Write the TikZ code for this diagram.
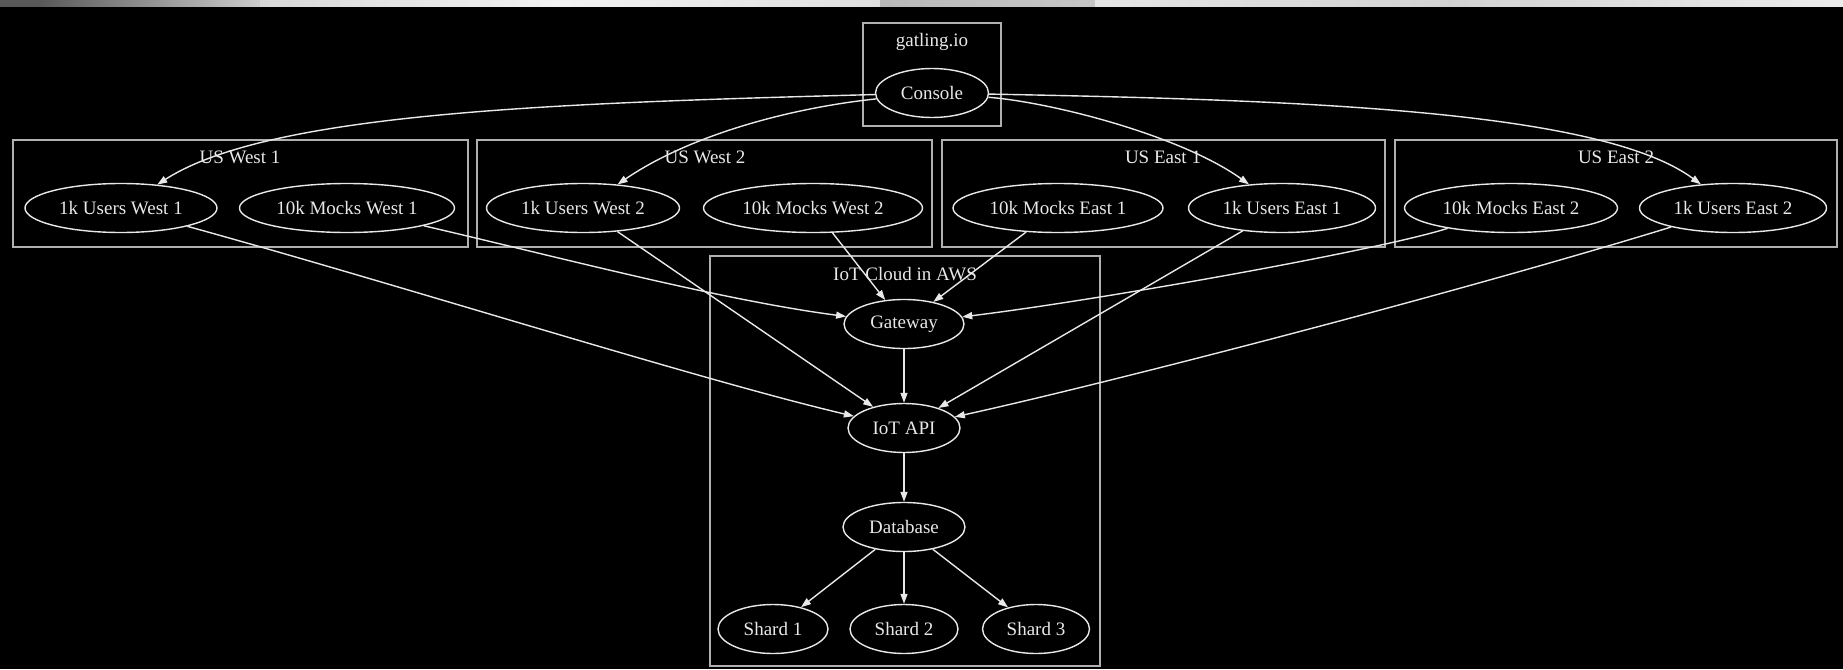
\documentclass[tikz,border=0pt]{standalone}
\usepackage{fontspec}
\setmainfont{Liberation Serif}
\usetikzlibrary{shapes.geometric,arrows.meta}
\definecolor{fg}{HTML}{E8E8E8}
\definecolor{clr}{HTML}{B0B0B0}
\begin{document}
\begin{tikzpicture}[x=1pt,y=-1pt,
  nd/.style={ellipse, draw=fg, line width=1.4pt, text=fg, inner sep=0pt,
    minimum height=49pt, font=\fontsize{19}{22}\selectfont},
  clbox/.style={draw=clr, line width=2.6pt},
  lbl/.style={text=fg, inner sep=0pt, font=\fontsize{19}{22}\selectfont},
  arr/.style={draw=fg, line width=1.4pt, -{Triangle[length=10pt,width=7pt]}},
]
\useasboundingbox (0,0) rectangle (1843,669);
\fill[black] (0,0) rectangle (1843,669);
% photographic strip at the top
\fill[gray!70!black] (0,0) rectangle (40,7);
\shade[left color=gray!70!black, right color=gray!40] (40,0) rectangle (260,7);
\shade[left color=gray!30, right color=gray!10] (260,0) rectangle (560,7);
\shade[left color=gray!10, right color=gray!25] (560,0) rectangle (880,7);
\shade[left color=gray!55, right color=gray!45] (880,0) rectangle (1095,7);
\shade[left color=gray!20, right color=gray!35] (1095,0) rectangle (1450,7);
\shade[left color=gray!35, right color=gray!15] (1450,0) rectangle (1843,7);

% clusters
\draw[clbox] (863,23) rectangle (1001,126);
\node[lbl] (lgat) at (932,42) {gatling.io};
\draw[clbox] (13,140) rectangle (468,247);
\node[lbl] (lw1) at (240,157) {US West 1};
\draw[clbox] (477,140) rectangle (932,247);
\node[lbl] (lw2) at (705,157) {US West 2};
\draw[clbox] (942,140) rectangle (1385,247);
\node[lbl] (le1) at (1163,157) {US East 1};
\draw[clbox] (1395,140) rectangle (1837,247);
\node[lbl] (le2) at (1616,157) {US East 2};
\draw[clbox] (710,256) rectangle (1100,666);
\node[lbl] (laws) at (905,274) {IoT Cloud in AWS};

% nodes
\node[nd, minimum width=113pt] (console) at (932,93) {Console};
\node[nd, minimum width=192pt] (u1) at (121,208) {1k Users West 1};
\node[nd, minimum width=215pt] (m1) at (347,208) {10k Mocks West 1};
\node[nd, minimum width=193pt] (u2) at (583,208) {1k Users West 2};
\node[nd, minimum width=219pt] (m2) at (813,208) {10k Mocks West 2};
\node[nd, minimum width=210pt] (m3) at (1058,208) {10k Mocks East 1};
\node[nd, minimum width=187pt] (u3) at (1282,208) {1k Users East 1};
\node[nd, minimum width=213pt] (m4) at (1511,208) {10k Mocks East 2};
\node[nd, minimum width=187pt] (u4) at (1733,208) {1k Users East 2};
\node[nd, minimum width=120pt] (gw) at (904,324) {Gateway};
\node[nd, minimum width=112pt] (api) at (904,428) {IoT API};
\node[nd, minimum width=122pt] (db) at (904,527) {Database};
\node[nd, minimum width=110pt] (s1) at (773,629) {Shard 1};
\node[nd, minimum width=108pt] (s2) at (904,629) {Shard 2};
\node[nd, minimum width=107pt] (s3) at (1036,629) {Shard 3};

% edges
\draw[arr] (console) .. controls (560,103) and (270,112) .. (u1);
\draw[arr] (console) .. controls (790,108) and (690,135) .. (u2);
\draw[arr] (console) .. controls (1050,102) and (1180,135) .. (u3);
\draw[arr] (console) .. controls (1300,100) and (1600,110) .. (u4);

\draw[arr] (u1) .. controls (400,285) and (700,380) .. (api);
\draw[arr] (m1) .. controls (550,255) and (720,300) .. (gw);
\draw[arr] (u2) -- (api);
\draw[arr] (m2) -- (gw);
\draw[arr] (m3) -- (gw);
\draw[arr] (u3) -- (api);
\draw[arr] (m4) .. controls (1380,250) and (1100,300) .. (gw);
\draw[arr] (u4) .. controls (1450,295) and (1100,385) .. (api);

\draw[arr] (gw) -- (api);
\draw[arr] (api) -- (db);
\draw[arr] (db) -- (s1);
\draw[arr] (db) -- (s2);
\draw[arr] (db) -- (s3);
\end{tikzpicture}
\end{document}
